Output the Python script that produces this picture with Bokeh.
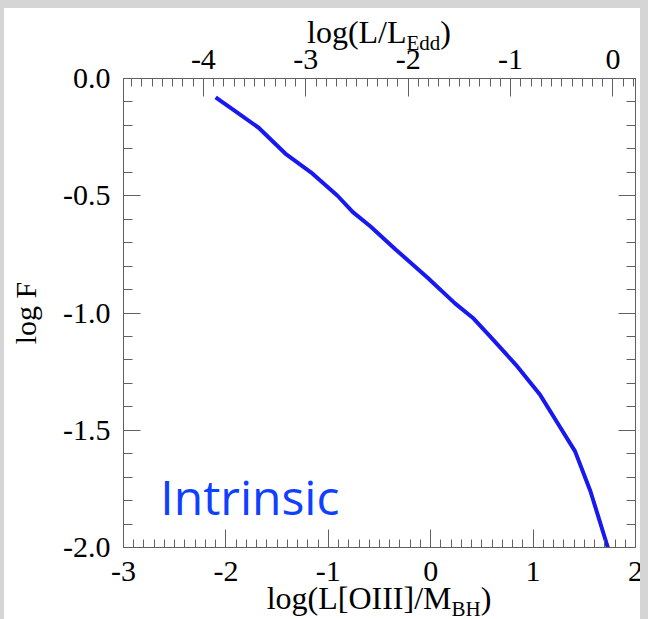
from bokeh.plotting import figure
from bokeh.models import LinearAxis, Range1d, SingleIntervalTicker, Label, Div
from bokeh.layouts import column
from bokeh.embed import file_html
from bokeh.resources import INLINE

# ---- data ----
x_oiii = [-2.10, -1.94, -1.68, -1.42, -1.17, -0.91, -0.76, -0.59, -0.34, -0.03,
          0.24, 0.41, 0.58, 0.83, 1.07, 1.24, 1.41, 1.56, 1.73]
log_f = [-0.08, -0.13, -0.21, -0.32, -0.40, -0.50, -0.57, -0.63, -0.73, -0.85,
         -0.96, -1.02, -1.10, -1.22, -1.35, -1.47, -1.59, -1.76, -2.00]
edd_offset = 1.78          # log(L/LEdd) = log(L[OIII]/MBH) - offset
x_ticks = [-3, -2, -1, 0, 1, 2]
top_ticks = [-4, -3, -2, -1, 0]
y_ticks = [-2.0, -1.5, -1.0, -0.5, 0.0]
x_labels = ["-3", "-2", "-1", "0", "1", "2"]
top_labels = ["-4", "-3", "-2", "-1", "0"]
y_labels = ["-2.0", "-1.5", "-1.0", "-0.5", "0.0"]
x_title = ("log(L[OIII]/M", "BH", ")")
top_title = ("log(L/L", "Edd", ")")
y_title = "log F"
series_name = "Intrinsic"

GRAY = "#606060"
PAGE_GRAY = "#d5d5d5"
SERIF = "Liberation Serif"
W, H = 648, 619
FIG_H = 590
BOT_H = H - FIG_H

p = figure(width=W, height=FIG_H, x_range=(-3, 2), y_range=(-2, 0),
           output_backend="svg", toolbar_location=None,
           min_border_left=123, min_border_right=13,
           min_border_top=78, min_border_bottom=43, margin=0)
p.grid.grid_line_color = None
p.outline_line_color = GRAY
p.outline_line_width = 1
p.background_fill_color = "white"
p.border_fill_color = "white"


def style_axis(ax, ticker, major_len, minor_len, labels=None, ticks=None, size="30px", standoff=8):
    ax.ticker = ticker
    ax.major_tick_in = major_len
    ax.major_tick_out = 0
    ax.minor_tick_in = minor_len
    ax.minor_tick_out = 0
    ax.axis_line_color = GRAY
    ax.major_tick_line_color = GRAY
    ax.minor_tick_line_color = GRAY
    ax.major_label_text_font = SERIF
    ax.major_label_text_font_size = size
    ax.major_label_text_color = "black"
    ax.major_label_standoff = standoff
    if labels is not None:
        ax.major_label_overrides = {t: l for t, l in zip(ticks, labels)}


xa = p.xaxis[0]
style_axis(xa, SingleIntervalTicker(interval=1, num_minor_ticks=10), 18, 8,
           x_labels, x_ticks, standoff=14)
ya = p.yaxis[0]
style_axis(ya, SingleIntervalTicker(interval=0.5, num_minor_ticks=5), 17, 9,
           y_labels, y_ticks, standoff=13)
ya.axis_label = y_title
ya.axis_label_text_font = SERIF
ya.axis_label_text_font_size = "30px"
ya.axis_label_text_font_style = "normal"
ya.axis_label_text_color = "black"
ya.axis_label_standoff = 18

p.extra_x_ranges = {"edd": Range1d(-3 - edd_offset, 2 - edd_offset)}
top = LinearAxis(x_range_name="edd")
style_axis(top, SingleIntervalTicker(interval=1, num_minor_ticks=10), 18, 8,
           top_labels, top_ticks, standoff=10)
p.add_layout(top, "above")

right = LinearAxis()
style_axis(right, SingleIntervalTicker(interval=0.5, num_minor_ticks=5), 17, 9,
           [""] * len(y_ticks), y_ticks, standoff=0)
p.add_layout(right, "right")

p.line(x_oiii, log_f, line_width=4, line_color="#1818f0")

p.add_layout(Label(x=-2.64, y=-1.7825, text=series_name, text_font="Open Sans",
                   text_font_size="48px", text_color="#1040ff", text_baseline="alphabetic",
                   text_align="left"))


def title_html(parts, top_px):
    main, sub, close = parts
    return (f'<div style="position:absolute; left:0; top:{top_px}px; width:{W}px; '
            f'box-sizing:border-box; padding-left:110px; text-align:center; '
            f'font-family:\'{SERIF}\'; font-size:32px; line-height:36px; color:black; '
            f'white-space:nowrap;">'
            f'{main}<span style="font-size:21px; position:relative; top:7px;">{sub}</span>'
            f'{close}</div>')


def strip(left, top, width, height):
    return (f'<div style="position:absolute; left:{left}px; top:{top}px; width:{width}px; '
            f'height:{height}px; background:{PAGE_GRAY};"></div>')


# overlay drawn after the figure: axis titles with subscripts and the page edge strips
html = (f'<div style="position:relative; width:{W}px; height:{BOT_H}px;">'
        + title_html(top_title, 14 - FIG_H)
        + title_html(x_title, -10)
        + strip(0, -FIG_H, W, 8)
        + strip(0, -FIG_H, 4, H)
        + strip(640, -FIG_H, 8, H)
        + '</div>')
bot_div = Div(text=html, width=W, height=BOT_H, margin=0,
              styles={"overflow": "visible"})

layout = column(p, bot_div, spacing=0, margin=0)
open("out.html", "w").write(file_html(layout, INLINE))
